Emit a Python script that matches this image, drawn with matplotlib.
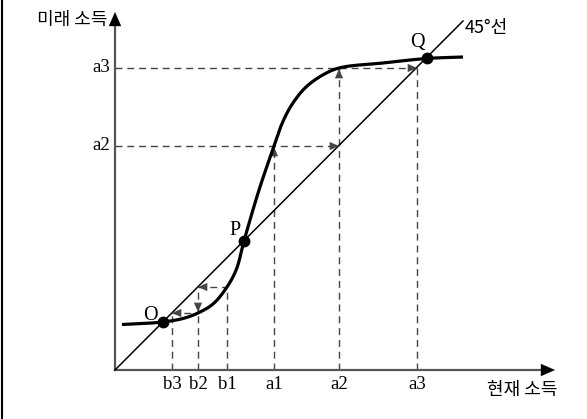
import numpy as np
import matplotlib.pyplot as plt
from matplotlib.lines import Line2D

# curve (units: pixels from origin)
curve_x = [7, 28, 48, 68, 83, 98, 112, 121.5, 129, 144, 159, 166, 176, 190, 206, 224, 268, 311.5, 348]
curve_y = [45.5, 46.5, 48, 51.5, 57, 66, 83, 101, 129, 180, 224, 244, 264, 282, 294, 302, 307, 311.5, 313]

b_ticks = {'b3': 57, 'b2': 83, 'b1': 112}
a_ticks = {'a1': 159, 'a2': 224, 'a3': 302}
equilibria = {'O': 48, 'P': 129, 'Q': 311.5}
line45_end = 348

DASH = '#444444'
AXIS = '#555555'
serif = ['Liberation Serif', 'DejaVu Serif']
kr = ['Noto Sans CJK KR', 'DejaVu Sans']


def catmull_rom(x, y, n=40, alpha=0.5):
    # centripetal catmull-rom through the read points
    p = np.column_stack([x, y]).astype(float)
    p = np.vstack([2 * p[0] - p[1], p, 2 * p[-1] - p[-2]])
    out = []
    for i in range(1, len(p) - 2):
        p0, p1, p2, p3 = p[i - 1], p[i], p[i + 1], p[i + 2]
        t0 = 0.0
        t1 = t0 + np.linalg.norm(p1 - p0) ** alpha
        t2 = t1 + np.linalg.norm(p2 - p1) ** alpha
        t3 = t2 + np.linalg.norm(p3 - p2) ** alpha
        t = np.linspace(t1, t2, n)[:, None]
        a1 = (t1 - t) / (t1 - t0) * p0 + (t - t0) / (t1 - t0) * p1
        a2 = (t2 - t) / (t2 - t1) * p1 + (t - t1) / (t2 - t1) * p2
        a3 = (t3 - t) / (t3 - t2) * p2 + (t - t2) / (t3 - t2) * p3
        b1 = (t2 - t) / (t2 - t0) * a1 + (t - t0) / (t2 - t0) * a2
        b2 = (t3 - t) / (t3 - t1) * a2 + (t - t1) / (t3 - t1) * a3
        out.append((t2 - t) / (t2 - t1) * b1 + (t - t1) / (t2 - t1) * b2)
    c = np.vstack(out)
    return c[:, 0], c[:, 1]


def dashed(xs, ys):
    ax.plot(xs, ys, color=DASH, lw=1.0, dashes=(5, 3.5), zorder=2)


def head(tip, direction, color=DASH, size=13):
    dx, dy = direction
    ax.annotate('', xy=tip, xytext=(tip[0] - dx, tip[1] - dy),
                arrowprops=dict(arrowstyle='-|>,head_length=0.5,head_width=0.22',
                                color=color, lw=0.1,
                                mutation_scale=size, shrinkA=0, shrinkB=0),
                zorder=4)


fig = plt.figure(figsize=(5.87, 4.19), dpi=100)
ax = fig.add_axes([0, 0, 1, 1])
ax.set_xlim(-115, 472)
ax.set_ylim(-49, 370)
ax.axis('off')

# left frame line
fig.add_artist(Line2D([0.003, 0.003], [0, 1], transform=fig.transFigure, color='black', lw=1.5))

# axes
ax.plot([0, 0], [0, 350], color=AXIS, lw=1.6, zorder=3)
ax.plot([0, 430], [0, 0], color=AXIS, lw=1.6, zorder=3)
head((0, 358), (0, 1), color='black', size=20)
head((440, 0), (1, 0), color='black', size=20)

# 45 degree line
ax.plot([0, line45_end], [0, line45_end + 1], color='black', lw=1.1, zorder=3)

# dashed guide lines
a1, a2, a3 = a_ticks['a1'], a_ticks['a2'], a_ticks['a3']
b1, b2, b3 = b_ticks['b1'], b_ticks['b2'], b_ticks['b3']
dashed([0, a3], [a3, a3]); head((a3, a3), (1, 0))
dashed([a3, a3], [0, a3])
dashed([0, a2], [a2, a2]); head((a2, a2), (1, 0))
dashed([a2, a2], [0, a3]); head((a2, a3 - 1), (0, 1))
dashed([a1, a1], [0, a2]); head((a1, a2 - 1), (0, 1))
dashed([b1, b1], [0, b2])
dashed([b2, b1], [b2, b2]); head((b2, b2), (-1, 0))
dashed([b2, b2], [0, b2]); head((b2, b3 + 1), (0, -1))
dashed([b3, b2], [b3, b3]); head((b3, b3), (-1, 0))
dashed([b3, b3], [0, b3])

# curve
cx, cy = catmull_rom(curve_x, curve_y)
ax.plot(cx, cy, color='black', lw=2.3, zorder=5, solid_capstyle='butt')

# equilibrium points
for name, v in equilibria.items():
    ax.plot(v, v, 'o', color='black', ms=7.5, zorder=6)
ax.text(35, 55, 'O', fontsize=14.5, family=serif, ha='center', va='center')
ax.text(120, 140, 'P', fontsize=14.5, family=serif, ha='center', va='center')
ax.text(302, 328, 'Q', fontsize=14.5, family=serif, ha='center', va='center')

# tick labels
for name, v in list(b_ticks.items()) + list(a_ticks.items()):
    ax.text(v, -14, name, fontsize=13.5, family=serif, ha='center', va='center')
for name in ['a2', 'a3']:
    ax.text(-5, a_ticks[name], name, fontsize=13.5, family=serif, ha='right', va='center')

# axis titles
ax.text(-78, 350, '미래 소득', fontsize=13, family=kr, ha='left', va='center')
ax.text(372, -20, '현재 소득', fontsize=13, family=kr, ha='left', va='center')
ax.text(350, 342, '45°선', fontsize=13, family=kr, ha='left', va='center')

fig.savefig('out.png', dpi=100)
